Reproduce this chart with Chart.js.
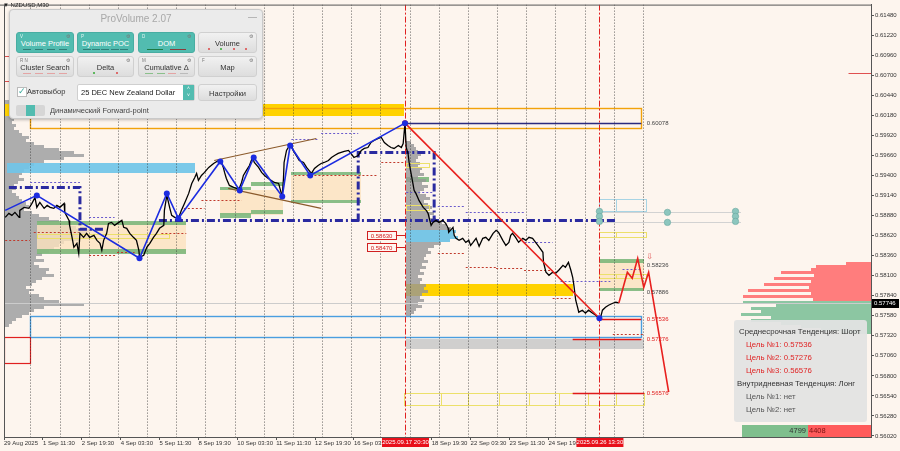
<!DOCTYPE html>
<html>
<head>
<meta charset="utf-8">
<title>NZDUSD M30</title>
<script src="https://cdn.jsdelivr.net/npm/chart.js@4.4.1/dist/chart.umd.min.js"></script>
<style>
  body { margin: 0; background: #fdf5ee; }
  #wrap { position: relative; width: 900px; height: 451px; overflow: hidden; font-family: "Liberation Sans", Arial, sans-serif; }
  #chart { position: absolute; left: 0; top: 0; }
  #sym { position: absolute; left: 3px; top: 2px; font-size: 6px; color: #222; }

  /* панель ProVolume */
  #pv { position: absolute; left: 9px; top: 9px; width: 252px; height: 108px; background: #ebebeb; border: 1px solid #c9c9c9; border-radius: 4px; box-shadow: 0 1px 3px rgba(0,0,0,.25); }
  #pv .ttl { position: absolute; left: 0; top: 0; width: 100%; height: 17px; line-height: 17px; text-align: center; font-size: 10px; color: #a8a8a8; }
  #pv .min { position: absolute; right: 5px; top: 2px; font-size: 9px; color: #9a9a9a; }
  .btn { position: absolute; height: 21px; width: 57px; box-sizing: border-box; border-radius: 3px; font-size: 7.5px; text-align: center; line-height: 21px; color: #333; background: linear-gradient(#f1f1f1, #dddddd); border: 1px solid #d0d0d0; }
  .btn.on { background: #52bcb0; border-color: #48ada2; color: #fff; }
  .btn .k { position: absolute; left: 3px; top: 1px; line-height: 5px; font-size: 4.5px; color: #777; }
  .btn.on .k { color: #e3f5f2; }
  .btn .g { position: absolute; right: 3px; top: 1px; line-height: 5px; font-size: 5px; color: #777; }
  .btn .ind { position: absolute; left: 4px; right: 4px; bottom: 2px; height: 2px; display: flex; justify-content: space-around; align-items: center; }
  .btn .ind span { display: block; width: 8px; height: 1px; }
  .btn .ind em { display: block; width: 2px; height: 2px; border-radius: 1px; }
  .row3 { position: absolute; font-size: 7.5px; color: #333; }
  #chk { position: absolute; left: 7px; top: 77px; width: 8px; height: 8px; background: #fff; border: 1px solid #bbb; color: #3aa99c; font-size: 9px; line-height: 7px; text-align: center; }
  #sel { position: absolute; left: 67px; top: 74px; width: 118px; height: 17px; box-sizing: border-box; background: #fff; border: 1px solid #cfcfcf; border-radius: 2px; font-size: 7.5px; line-height: 15px; padding-left: 3px; color: #222; }
  #sel b { position: absolute; right: 0; top: 0; width: 11px; height: 15px; background: #52bcb0; color: #fff; font-size: 5px; line-height: 7px; text-align: center; font-weight: normal; }
  #tog { position: absolute; left: 6px; top: 95px; width: 29px; height: 11px; background: #d6d6d6; border-radius: 2px; }
  #tog i { position: absolute; left: 10px; top: 0; width: 9px; height: 11px; background: #52bcb0; }

  /* информационная панель */
  #info { position: absolute; left: 734px; top: 320px; width: 133px; height: 102px; background: rgba(226,226,226,0.94); border-radius: 3px; }
  #info div { position: absolute; font-size: 7.8px; line-height: 13px; white-space: nowrap; color: #333; }
  #info .t { color: #e02424; }
  #info .n { color: #555; }
  .vol { position: absolute; top: 425px; height: 12px; font-size: 7.5px; line-height: 12px; box-sizing: border-box; }
</style>
</head>
<body>
<div id="wrap">
  <canvas id="chart" width="900" height="451"></canvas>
  <div id="sym">▼ NZDUSD,M30</div>

  <div id="pv">
    <div class="ttl">ProVolume 2.07</div><div class="min">—</div>

    <div class="btn on" style="left:6px;top:22px;width:58px"><span class="k">V</span><span class="g">⚙</span>Volume Profile
      <div class="ind"><span style="background:#2f7f78"></span><span style="background:#2f7f78"></span><span style="background:#2f7f78"></span><span style="background:#2f7f78"></span></div></div>
    <div class="btn on" style="left:67px;top:22px"><span class="k">P</span><span class="g">⚙</span>Dynamic POC
      <div class="ind"><span style="background:#2f7f78"></span><span style="background:#2f7f78"></span><span style="background:#2f7f78"></span><span style="background:#2f7f78"></span><span style="background:#2f7f78"></span></div></div>
    <div class="btn on" style="left:128px;top:22px"><span class="k">D</span><span class="g">⚙</span>DOM
      <div class="ind"><span style="background:#1d7a45;width:16px"></span><span style="background:#8a3b3b;width:16px"></span></div></div>
    <div class="btn" style="left:188px;top:22px;width:59px"><span class="g">⚙</span>Volume
      <div class="ind"><em style="background:#d44"></em><em style="background:#3a3"></em><em style="background:#d44"></em><em style="background:#d44"></em></div></div>

    <div class="btn" style="left:6px;top:46px;width:58px"><span class="k">R N</span><span class="g">⚙</span>Cluster Search
      <div class="ind"><span style="background:#e4a4a4"></span><span style="background:#e4a4a4"></span><span style="background:#e4a4a4"></span><span style="background:#e4a4a4"></span></div></div>
    <div class="btn" style="left:67px;top:46px"><span class="g">⚙</span>Delta
      <div class="ind"><em style="background:#3a3"></em><em style="background:#d44"></em></div></div>
    <div class="btn" style="left:128px;top:46px"><span class="k">M</span><span class="g">⚙</span>Cumulative Δ
      <div class="ind"><span style="background:#8bc08b"></span><span style="background:#8bc08b"></span><span style="background:#e4a4a4"></span><span style="background:#bbb"></span></div></div>
    <div class="btn" style="left:188px;top:46px;width:59px"><span class="k">F</span><span class="g">⚙</span>Map</div>

    <div id="chk">✓</div>
    <div class="row3" style="left:17px;top:76px;line-height:11px">Автовыбор</div>
    <div id="sel">25 DEC New Zealand Dollar<b>˄<br>˅</b></div>
    <div class="btn" style="left:188px;top:74px;width:59px;height:17px;line-height:17px">Настройки</div>
    <div id="tog"><i></i></div>
    <div class="row3" style="left:40px;top:95px;line-height:11px;color:#444">Динамический Forward-point</div>
  </div>

  <div id="info">
    <div style="left:5px;top:5px">Среднесрочная Тенденция: Шорт</div>
    <div class="t" style="left:12px;top:18px">Цель №1: 0.57536</div>
    <div class="t" style="left:12px;top:31px">Цель №2: 0.57276</div>
    <div class="t" style="left:12px;top:44px">Цель №3: 0.56576</div>
    <div style="left:3px;top:57px">Внутридневная Тенденция: Лонг</div>
    <div class="n" style="left:12px;top:70px">Цель №1: нет</div>
    <div class="n" style="left:12px;top:83px">Цель №2: нет</div>
  </div>
  <div class="vol" style="left:742px;width:66px;background:#7fbf8d;color:#333;text-align:right;padding-right:2px">4799</div>
  <div class="vol" style="left:808px;width:63px;background:#ff5b5b;color:#7a1010;padding-left:1px">4408</div>
</div>

<script>
// ---- цена (M30, номер бара -> close) ----
const priceBars = [
  2, 8, 13, 18, 25, 26, 33, 41, 46, 51,
  54, 59, 66, 71, 76, 82, 87, 92, 99, 100,
  107, 108, 112, 115, 120, 123, 125, 131, 136, 141,
  148, 153, 158, 161, 164, 169, 172, 177, 182, 189,
  194, 197, 202, 207, 213, 218, 222, 223, 230, 235,
  240, 246, 251, 256, 263, 264, 268, 273, 276, 281,
  287, 292, 297, 304, 309, 314, 317, 320, 325, 330,
  337, 345, 353, 358, 361, 363, 366, 371, 378, 383,
  386, 391, 394, 399, 404, 409, 412, 419, 424, 429,
  435, 440, 445, 452, 456, 458, 460, 461, 465, 468,
  473, 476, 481, 486, 493, 498, 502, 506, 511, 517,
  522, 527, 534, 539, 544, 550, 555, 560, 567, 571,
  576, 583, 588, 593, 599, 604, 609, 616, 621, 626,
  632, 637, 642, 649, 654, 657, 660, 662, 665, 667,
  670, 673, 675, 678, 681, 683, 686, 690, 695, 698,
  700, 703, 706, 711, 716, 722, 727, 731, 732, 739,
  741, 744, 749, 755, 760, 765, 768, 772, 777, 782,
  785, 788, 793, 798, 805, 810, 814, 821, 826, 831,
  834, 837, 842, 847, 854, 859, 864, 870, 875, 880,
  887, 888, 892, 897, 903, 908, 913, 920, 924, 929,
  933, 936, 938, 941, 944, 946, 952, 957, 962, 969,
  974, 979, 982, 985, 990, 995, 1002, 1007, 1012
];
const priceClose = [
  0.58856, 0.58908, 0.58882, 0.58921, 0.58856, 0.58947, 0.58986, 0.58973, 0.59037, 0.59115,
  0.58986, 0.59050, 0.58973, 0.59011, 0.58986, 0.58973, 0.59011, 0.58986, 0.59037, 0.58921,
  0.58817, 0.58752, 0.58597, 0.58468, 0.58519, 0.58390, 0.58649, 0.58597, 0.58649, 0.58597,
  0.58623, 0.58558, 0.58519, 0.58429, 0.58558, 0.58649, 0.58778, 0.58791, 0.58752, 0.58791,
  0.58817, 0.58727, 0.58714, 0.58649, 0.58597, 0.58558, 0.58429, 0.58338, 0.58364, 0.58468,
  0.58519, 0.58597, 0.58649, 0.58714, 0.58752, 0.58947, 0.59141, 0.58973, 0.58882, 0.58856,
  0.58843, 0.58947, 0.59037, 0.59167, 0.59296, 0.59374, 0.59426, 0.59335, 0.59400, 0.59439,
  0.59504, 0.59555, 0.59594, 0.59568, 0.59504, 0.59439, 0.59361, 0.59270, 0.59244, 0.59231,
  0.59206, 0.59309, 0.59400, 0.59465, 0.59529, 0.59633, 0.59568, 0.59504, 0.59439, 0.59400,
  0.59361, 0.59335, 0.59309, 0.59296, 0.59180, 0.59141, 0.59361, 0.59568, 0.59724, 0.59762,
  0.59788, 0.59724, 0.59659, 0.59594, 0.59568, 0.59504, 0.59465, 0.59426, 0.59491, 0.59529,
  0.59555, 0.59568, 0.59594, 0.59633, 0.59659, 0.59685, 0.59698, 0.59711, 0.59724, 0.59685,
  0.59633, 0.59659, 0.59724, 0.59750, 0.59762, 0.59827, 0.59853, 0.59879, 0.59892, 0.59827,
  0.59788, 0.59762, 0.59750, 0.59788, 0.59762, 0.59814, 0.60078, 0.59762, 0.59685, 0.59555,
  0.59426, 0.59296, 0.59206, 0.59167, 0.59115, 0.59076, 0.59037, 0.58986, 0.58947, 0.58908,
  0.58843, 0.58752, 0.58791, 0.58817, 0.58791, 0.58817, 0.58778, 0.58714, 0.58662, 0.58726,
  0.58623, 0.58584, 0.58558, 0.58584, 0.58532, 0.58558, 0.58493, 0.58532, 0.58584, 0.58480,
  0.58532, 0.58584, 0.58597, 0.58558, 0.58649, 0.58688, 0.58662, 0.58558, 0.58493, 0.58532,
  0.58623, 0.58649, 0.58597, 0.58532, 0.58584, 0.58558, 0.58597, 0.58584, 0.58532, 0.58480,
  0.58403, 0.58273, 0.58144, 0.58105, 0.58144, 0.58131, 0.58170, 0.58234, 0.58208, 0.58273,
  0.58170, 0.58079, 0.57975, 0.57781, 0.57691, 0.57626, 0.57652, 0.57613, 0.57652, 0.57613,
  0.57587, 0.57548, 0.57561, 0.57652, 0.57691, 0.57716, 0.57742, 0.57755, 0.57746
];
const currentPrice = 0.57746;

// зигзаг и прогноз
const zigBars = [2, 54, 223, 268, 287, 356, 388, 411, 458, 471, 504, 660];
const zigPrices = [0.58947, 0.59141, 0.58325, 0.59167, 0.58843, 0.59581, 0.59206, 0.59633, 0.59128, 0.59788, 0.59400, 0.60078];
const dropBars = [660, 980];
const dropPrices = [0.60078, 0.57548];
const forecastBars = [1012, 1026, 1034, 1043, 1053, 1061, 1094];
const forecastPrices = [0.57746, 0.58144, 0.58066, 0.58325, 0.57949, 0.58144, 0.56590];
const channelTopBars = [346, 514], channelTopPrices = [0.59594, 0.59879];
const channelLowBars = [369, 522], channelLowPrices = [0.59232, 0.58973];

// оси
const yTicks = [0.56020, 0.56280, 0.56540, 0.56800, 0.57060, 0.57320, 0.57580, 0.57840, 0.58100, 0.58360, 0.58620,
  0.58880, 0.59140, 0.59400, 0.59660, 0.59920, 0.60180, 0.60440, 0.60700, 0.60960, 0.61220, 0.61480];
const xTickBars = [0, 64, 128, 192, 256, 320, 384, 448, 512, 576, 704, 768, 832, 896];
const xTickLabels = ['29 Aug 2025', '1 Sep 11:30', '2 Sep 19:30', '4 Sep 03:30', '5 Sep 11:30', '8 Sep 19:30', '10 Sep 03:30',
  '11 Sep 11:30', '12 Sep 19:30', '16 Sep 03:30', '18 Sep 19:30', '22 Sep 03:30', '23 Sep 11:30', '24 Sep 19:30'];
const markerBars = [660, 980];
const markerLabels = ['2025.09.17 20:30', '2025.09.26 13:30'];
const daySeparatorFirst = 43.5, barsPerDay = 48, daySeparatorCount = 22;

// объёмные профили (верхняя цена, шаг, объёмы)
const profileStep = 0.000389;
const leftProfileTop = 0.60384;
const leftProfile = [6, 8, 10, 12, 10, 14, 10,
  8, 12, 10, 15, 18, 25, 22, 30, 40, 55, 70, 80, 60, 40, 30, 25, 20, 18, 15, 20,
  14, 10, 12, 8, 12, 15, 18, 22, 25, 20, 28, 35, 45, 55, 65, 72, 85, 82, 86, 75,
  60, 55, 50, 45, 38, 32, 40, 30, 35, 45, 42, 50, 38, 32, 28, 22, 30, 25, 35, 40,
  55, 80, 40, 30, 25, 18, 12, 8, 5];
const midProfileTop = 0.59853;
const midProfile = [5, 8, 10, 12, 15, 12, 10, 14, 12, 16, 14, 18, 12, 20, 16, 22, 18, 14, 20, 24,
  18, 22, 26, 20, 28, 24, 30, 36, 40, 45, 50, 48, 52, 44, 35, 28, 22, 25, 20, 18,
  22, 16, 20, 14, 18, 12, 16, 14, 20, 18, 22, 16, 14, 18, 12, 16, 10, 8, 5];
const midValueArea = [0.58701, 0.58545];
const askProfileTop = 0.58273;
const askProfile = [25, 55, 60, 90, 57, 97, 60, 107, 62, 123, 60, 128, 58];
const bidProfileTop = 0.57767;
const bidProfile = [128, 95, 120, 110, 130, 100, 120, 90, 70, 50, 30];

// зоны: [бар от, бар до, цена верх, цена низ]
const goldZones = [[0, 658, 0.60332, 0.60177], [662, 936, 0.57988, 0.57833]];
const skyZones = [[5, 314, 0.59555, 0.59426]];
const peachZones = [[54, 300, 0.58791, 0.58390], [355, 460, 0.59206, 0.58882], [473, 588, 0.59400, 0.59076], [980, 1054, 0.58299, 0.57911]];
const greenZones = [[54, 300, 0.58804, 0.58752], [54, 300, 0.58442, 0.58377], [355, 407, 0.59245, 0.59206], [407, 460, 0.59309, 0.59258],
  [355, 407, 0.58908, 0.58843], [407, 460, 0.58947, 0.58895], [473, 588, 0.59439, 0.59400], [473, 588, 0.59076, 0.59037],
  [662, 700, 0.59374, 0.59309], [980, 1054, 0.58312, 0.58260], [980, 1054, 0.57937, 0.57898]];
const grayZones = [[662, 1054, 0.57276, 0.57147]];
const orangeBoxes = [[43, 1049, 0.60280, 0.60009]];
const blueBoxes = [[43, 1049, 0.57574, 0.57302]];
const redBoxes = [[0, 43, 0.57302, 0.56965]];
const yellowBoxes = [[54, 271, 0.58636, 0.58584], [662, 700, 0.59555, 0.59504], [662, 700, 0.59011, 0.58947],
  [980, 1007, 0.58662, 0.58597], [1007, 1056, 0.58662, 0.58597], [980, 1007, 0.58118, 0.58066], [1007, 1056, 0.58118, 0.58066]];
const cyanBoxes = [[980, 1007, 0.59089, 0.58934], [1007, 1056, 0.59089, 0.58934]];
const forwardBars = [659, 719, 764, 814, 864, 913, 961, 1007, 1054];
const forwardBand = [0.56577, 0.56421];

// линии: [бар от, бар до, цена]
const navyLevels = [[660, 1049, 0.60078]];
const targetLines = [[980, 1049, 0.57536], [936, 1049, 0.57276], [936, 1054, 0.56576]];
const shortRedLines = [[0, 12, 0.60954], [0, 12, 0.60630], [1390, 1427, 0.60728]];
const greyGuides = [[980, 1213, 0.58921], [980, 1213, 0.58791]];
const purpleDotted = [[43, 125, 0.59309], [140, 182, 0.58856], [473, 519, 0.59879], [522, 583, 0.59944], [662, 706, 0.59180],
  [714, 760, 0.58998], [760, 856, 0.58921], [856, 903, 0.58532], [916, 998, 0.58027], [1018, 1048, 0.58183]];
const redDotted = [[2, 43, 0.58558], [49, 123, 0.58662], [140, 186, 0.58364], [186, 215, 0.58403], [259, 300, 0.58649],
  [296, 330, 0.58973], [325, 391, 0.59076], [478, 616, 0.59400], [621, 658, 0.59568], [714, 760, 0.58390],
  [760, 810, 0.58209], [810, 856, 0.58196], [856, 903, 0.58170], [903, 936, 0.57807], [1002, 1054, 0.57341]];
const dashDotPaths = [
  [[8, 0.59245], [125, 0.59245], [125, 0.58701], [166, 0.58701]],
  [[255, 0.58817], [1010, 0.58817]],
  [[583, 0.58804], [583, 0.59698], [708, 0.59698], [708, 0.58817]]
];
const levelPrices = [0.60078, 0.58236, 0.57886, 0.57536, 0.57276, 0.56576];
const levelIsTarget = [false, false, false, true, true, true];
const tagPrices = [0.58630, 0.58470];
const tealDots = [[980, 0.58934], [980, 0.58869], [980, 0.58804], [1092, 0.58921], [1092, 0.58791], [1204, 0.58934], [1204, 0.58869], [1204, 0.58804]];

const barsPerVolume = 1.642;
const FONT = '"Liberation Sans", Arial, sans-serif';

function fillZones(ctx, X, Y, zones, color) {
  ctx.fillStyle = color;
  zones.forEach(z => {
    const x1 = Math.round(X(z[0])), x2 = Math.round(X(z[1])), y1 = Math.round(Y(z[2])), y2 = Math.round(Y(z[3]));
    ctx.fillRect(x1, y1, x2 - x1, Math.max(1, y2 - y1));
  });
}
function strokeZones(ctx, X, Y, zones, color, w) {
  ctx.strokeStyle = color; ctx.lineWidth = w; ctx.setLineDash([]);
  zones.forEach(z => {
    const x1 = Math.round(X(z[0])) + 0.5, y1 = Math.round(Y(z[2])) + 0.5;
    ctx.strokeRect(x1, y1, Math.round(X(z[1])) - Math.round(X(z[0])), Math.round(Y(z[3])) - Math.round(Y(z[2])));
  });
}
function hLines(ctx, X, Y, lines, color, w, dash) {
  ctx.strokeStyle = color; ctx.lineWidth = w; ctx.setLineDash(dash || []);
  lines.forEach(l => {
    const y = Math.round(Y(l[2])) + 0.5;
    ctx.beginPath(); ctx.moveTo(X(l[0]), y); ctx.lineTo(X(l[1]), y); ctx.stroke();
  });
  ctx.setLineDash([]);
}
function drawProfile(ctx, X, Y, anchor, dir, top, vols, colorFor) {
  vols.forEach((v, i) => {
    const p1 = top - i * profileStep, p2 = p1 - profileStep;
    const x0 = Math.round(X(anchor)), x1 = Math.round(X(anchor + dir * v * barsPerVolume));
    const y1 = Math.round(Y(p1)), y2 = Math.round(Y(p2));
    ctx.fillStyle = colorFor(p1 - profileStep / 2);
    ctx.fillRect(Math.min(x0, x1), y1, Math.abs(x1 - x0), y2 - y1);
  });
}

const mtObjects = {
  id: 'mtObjects',
  beforeDraw(chart) {
    const ctx = chart.ctx;
    ctx.save();
    ctx.fillStyle = '#fdf5ee';
    ctx.fillRect(0, 0, chart.width, chart.height);
    ctx.restore();
  },
  beforeDatasetsDraw(chart) {
    const { ctx, chartArea: a } = chart;
    const X = v => chart.scales.x.getPixelForValue(v);
    const Y = v => chart.scales.y.getPixelForValue(v);
    ctx.save();
    ctx.beginPath(); ctx.rect(a.left, a.top, a.right - a.left, a.bottom - a.top); ctx.clip();

    // профили объёма
    drawProfile(ctx, X, Y, 0, 1, leftProfileTop, leftProfile, () => '#adadad');
    drawProfile(ctx, X, Y, 1427, -1, askProfileTop, askProfile, () => '#ff7d7d');
    drawProfile(ctx, X, Y, 1427, -1, bidProfileTop, bidProfile, () => '#8cc6a2');

    // зоны
    fillZones(ctx, X, Y, peachZones, 'rgba(251,226,190,0.8)');
    fillZones(ctx, X, Y, greenZones, 'rgba(118,180,118,0.85)');
    fillZones(ctx, X, Y, goldZones, '#ffd200');
    fillZones(ctx, X, Y, skyZones, 'rgba(112,196,232,0.92)');
    fillZones(ctx, X, Y, grayZones, 'rgba(200,200,200,0.85)');
    drawProfile(ctx, X, Y, 662, 1, midProfileTop, midProfile,
      p => (p <= midValueArea[0] && p >= midValueArea[1]) ? '#78c6e6' : 'rgba(150,150,150,0.8)');

    strokeZones(ctx, X, Y, orangeBoxes, '#f2a20a', 1.4);
    strokeZones(ctx, X, Y, blueBoxes, '#4a9ee0', 1.4);
    strokeZones(ctx, X, Y, redBoxes, '#e02020', 1.2);
    strokeZones(ctx, X, Y, yellowBoxes, '#ece06a', 1);
    strokeZones(ctx, X, Y, cyanBoxes, '#a8d4e4', 1);
    const fb = forwardBars.slice(0, -1).map((b, i) => [b, forwardBars[i + 1], forwardBand[0], forwardBand[1]]);
    strokeZones(ctx, X, Y, fb, '#ece06a', 1);

    // суточные разделители
    ctx.strokeStyle = 'rgba(50,50,50,0.75)'; ctx.lineWidth = 1; ctx.setLineDash([1, 2]);
    for (let k = 0; k < daySeparatorCount; k++) {
      const xx = Math.round(X(daySeparatorFirst + k * barsPerDay)) + 0.5;
      ctx.beginPath(); ctx.moveTo(xx, a.top); ctx.lineTo(xx, a.bottom); ctx.stroke();
    }
    ctx.setLineDash([]);

    hLines(ctx, X, Y, [[0, 1427, currentPrice]], '#cccccc', 1);
    hLines(ctx, X, Y, greyGuides, '#d2d2d2', 1);
    hLines(ctx, X, Y, purpleDotted, '#6a5acd', 1, [2, 2]);
    hLines(ctx, X, Y, redDotted, '#c0392b', 1, [2, 2]);
    hLines(ctx, X, Y, navyLevels, '#2b2b80', 1.5);
    hLines(ctx, X, Y, targetLines, '#e01818', 1.5);
    hLines(ctx, X, Y, shortRedLines, '#e05050', 1);

    // штрихпунктирные уровни
    ctx.strokeStyle = '#2a2aa0'; ctx.lineWidth = 3; ctx.setLineDash([8, 3, 2, 3]);
    dashDotPaths.forEach(path => {
      ctx.beginPath();
      path.forEach((pt, i) => i ? ctx.lineTo(X(pt[0]), Y(pt[1])) : ctx.moveTo(X(pt[0]), Y(pt[1])));
      ctx.stroke();
    });
    ctx.setLineDash([]);

    // красные вертикальные маркеры времени
    ctx.strokeStyle = '#e02020'; ctx.lineWidth = 1; ctx.setLineDash([6, 2, 2, 2]);
    markerBars.forEach(b => {
      const xx = Math.round(X(b)) + 0.5;
      ctx.beginPath(); ctx.moveTo(xx, a.top); ctx.lineTo(xx, a.bottom); ctx.stroke();
    });
    ctx.setLineDash([]);
    ctx.restore();
  },
  afterDatasetsDraw(chart) {
    const { ctx } = chart;
    const X = v => chart.scales.x.getPixelForValue(v);
    const Y = v => chart.scales.y.getPixelForValue(v);
    ctx.save();
    // точки уровней
    tealDots.forEach(d => {
      ctx.beginPath(); ctx.arc(X(d[0]), Y(d[1]), 3.2, 0, Math.PI * 2);
      ctx.fillStyle = '#8cc6be'; ctx.fill();
      ctx.strokeStyle = '#6aa8a0'; ctx.lineWidth = 0.6; ctx.stroke();
    });
    // подписи уровней
    ctx.font = '6px ' + FONT; ctx.textBaseline = 'middle'; ctx.textAlign = 'left';
    levelPrices.forEach((p, i) => {
      ctx.fillStyle = levelIsTarget[i] ? '#e02020' : '#444';
      ctx.fillText(p.toFixed(5), X(1058), Y(p));
    });
    // красные ценовые метки
    tagPrices.forEach(p => {
      const x1 = X(598), x2 = X(645), y = Math.round(Y(p)) + 0.5;
      ctx.fillStyle = '#fff6f2'; ctx.fillRect(x1, y - 4, x2 - x1, 8);
      ctx.strokeStyle = '#d02020'; ctx.lineWidth = 1; ctx.strokeRect(Math.round(x1) + 0.5, y - 4, Math.round(x2 - x1), 8);
      ctx.beginPath(); ctx.moveTo(x2, y); ctx.lineTo(X(660), y); ctx.stroke();
      ctx.fillStyle = '#d02020'; ctx.textAlign = 'center';
      ctx.fillText(p.toFixed(5), (x1 + x2) / 2, y + 0.5);
    });
    ctx.textAlign = 'left';
    ctx.fillStyle = '#e05050'; ctx.font = '8px "DejaVu Sans"';
    ctx.fillText('⇩', X(1057), Y(0.58340));
    ctx.restore();
  },
  afterDraw(chart) {
    const { ctx, chartArea: a } = chart;
    const X = v => chart.scales.x.getPixelForValue(v);
    const Y = v => chart.scales.y.getPixelForValue(v);
    ctx.save();
    // рамка
    ctx.strokeStyle = '#555'; ctx.lineWidth = 1;
    ctx.beginPath(); ctx.moveTo(0, a.top + 0.5); ctx.lineTo(a.right, a.top + 0.5); ctx.stroke();
    ctx.beginPath(); ctx.moveTo(a.left + 0.5, a.top); ctx.lineTo(a.left + 0.5, a.bottom); ctx.stroke();
    // метки времени на оси
    ctx.font = '6px ' + FONT; ctx.textAlign = 'center'; ctx.textBaseline = 'middle';
    markerBars.forEach((b, i) => {
      const cx = X(b);
      ctx.fillStyle = '#e8101a'; ctx.fillRect(cx - 23, a.bottom + 1, 47, 9);
      ctx.fillStyle = '#fff'; ctx.fillText(markerLabels[i], cx + 0.5, a.bottom + 5.5);
    });
    // текущая цена на шкале
    const yc = Math.round(Y(currentPrice));
    ctx.fillStyle = '#000'; ctx.fillRect(a.right + 1, yc - 4, 27, 9);
    ctx.fillStyle = '#fff'; ctx.textAlign = 'left';
    ctx.fillText(currentPrice.toFixed(5), a.right + 3, yc + 0.5);
    ctx.restore();
  }
};

const pts = (bars, vals) => bars.map((b, i) => ({ x: b, y: vals[i] }));

new Chart(document.getElementById('chart'), {
  type: 'line',
  data: {
    datasets: [
      { data: pts(zigBars, zigPrices), borderColor: '#1c2ce0', borderWidth: 1.6, tension: 0,
        pointRadius: zigBars.map((b, i) => i ? 3 : 0), pointBackgroundColor: '#1c2ce0', pointBorderWidth: 0 },
      { data: pts(dropBars, dropPrices), borderColor: '#e8201e', borderWidth: 1.6, tension: 0,
        pointRadius: 3, pointBackgroundColor: ['#e8201e', '#1c2ce0'], pointBorderWidth: 0 },
      { data: pts(forecastBars, forecastPrices), borderColor: '#e8201e', borderWidth: 1.6, tension: 0, pointRadius: 0 },
      { data: pts(channelTopBars, channelTopPrices), borderColor: '#8b5a2b', borderWidth: 1.2, pointRadius: 0 },
      { data: pts(channelLowBars, channelLowPrices), borderColor: '#8b5a2b', borderWidth: 1.2, pointRadius: 0 },
      { data: pts(priceBars, priceClose), borderColor: '#000', borderWidth: 1.3, tension: 0, pointRadius: 0 }
    ]
  },
  options: {
    responsive: false,
    devicePixelRatio: 1,
    animation: false,
    layout: { padding: { top: 4, left: 2, right: 0, bottom: 0 } },
    plugins: { legend: { display: false }, tooltip: { enabled: false } },
    scales: {
      x: {
        type: 'linear', min: 0, max: 1427, position: 'bottom',
        afterFit: s => { s.height = 14; },
        afterBuildTicks: s => { s.ticks = xTickBars.map(v => ({ value: v })); },
        border: { color: '#555' },
        grid: { drawOnChartArea: false, drawTicks: true, tickLength: 3, color: '#555' },
        ticks: {
          autoSkip: false, maxRotation: 0, align: 'start', padding: 0, color: '#333',
          font: { size: 6, family: FONT },
          callback: v => { const i = xTickBars.indexOf(v); return i >= 0 ? xTickLabels[i] : ''; }
        }
      },
      y: {
        type: 'linear', position: 'right', min: 0.56007, max: 0.61616,
        afterFit: s => { s.width = 29; },
        afterBuildTicks: s => { s.ticks = yTicks.map(v => ({ value: v })); },
        border: { color: '#555' },
        grid: { drawOnChartArea: false, drawTicks: true, tickLength: 3, color: '#555' },
        ticks: { padding: 1, color: '#333', font: { size: 6, family: FONT }, callback: v => v.toFixed(5) }
      }
    }
  },
  plugins: [mtObjects]
});
</script>
</body>
</html>
